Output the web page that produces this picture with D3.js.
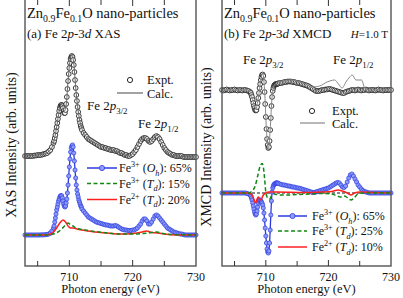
<!DOCTYPE html>
<html>
<head>
<meta charset="utf-8">
<script src="https://cdn.jsdelivr.net/npm/d3@7"></script>
<style>
body{margin:0;background:#fff}
svg text{font-family:"Liberation Serif","DejaVu Serif","Noto Serif",serif}
</style>
</head>
<body>
<div id="chart"></div>
<script>
const W = 403, H = 298;

// photon energy grid of the measured spectra (eV)
const energy = [].concat(d3.range(703, 707.51, 0.25), d3.range(707.6, 712.01, 0.1), d3.range(712.25, 730.01, 0.25));

// (a) XAS, measured + Fe3+ Oh component (on the grid above)
const xasExpt = [
  7.9,7.9,7.9,7.9,7.9,7.9,7.95,7.95,8.0,8.0,8.0,8.05,8.1,8.15,8.2,8.35,8.5,8.8,9.2,
  9.4,9.7,10.0,10.4,10.8,11.2,11.6,12.0,12.4,12.7,12.9,13.0,13.0,12.9,12.7,12.4,12.2,12.2,12.5,13.1,
  13.8,14.6,15.4,16.1,16.7,17.2,17.6,17.8,17.9,17.8,17.5,17.0,16.3,15.5,14.7,14.0,13.4,12.8,12.3,11.9,
  11.5,11.2,10.9,10.7,10.5,
  10.2,10.0,9.8, 9.6,9.5,9.4,9.3, 9.2,9.1,9.0,8.9, 8.8,8.8,8.7,8.7, 8.6,8.6,8.5,8.5, 8.5,8.4,8.4,8.3,
  8.2,8.2,8.1,8.0, 8.0,7.9,7.9,8.0, 8.1,8.3,8.5,8.8, 9.1,9.4,9.6,9.7, 9.7,9.6,9.4,9.3, 9.4,9.6,9.8,9.9,
  9.8,9.6,9.3,9.0, 8.7,8.5,8.3,8.2, 8.1,8.0,8.0,7.9, 7.9,7.9,7.9,7.9, 7.8,7.8,7.8,7.8, 7.8,7.8,7.8,7.8, 7.8
];
const xasOh = [
  0,0,0,0,0,0,0,0,0,0,0.01,0.01,0.02,0.03,0.05,0.1,0.2,0.4,0.7,
  0.9,1.3,1.7,2.1,2.5,2.8,3.1,3.4,3.6,3.8,3.9,3.95,3.9,3.7,3.4,3.1,2.9,2.8,2.9,3.2,
  3.6,4.2,5.0,5.9,6.8,7.6,8.3,8.7,8.9,9.0,8.8,8.2,7.4,6.5,5.7,5.0,4.5,4.1,3.8,3.5,
  3.3,3.1,2.9,2.8,2.6,
  2.4,2.2,2.0, 1.8,1.7,1.6,1.5, 1.4,1.3,1.25,1.2, 1.15,1.1,1.05,1.0, 1.0,0.95,0.9,0.9, 0.9,0.95,0.9,0.8,
  0.7,0.6,0.55,0.5, 0.5,0.45,0.45,0.45, 0.5,0.5,0.6,0.7, 0.9,1.1,1.4,1.6, 1.6,1.4,1.1,1.1, 1.3,1.6,1.9,2.0,
  1.9,1.7,1.5,1.3, 1.1,0.9,0.7,0.6, 0.5,0.4,0.3,0.25, 0.2,0.15,0.1,0.1, 0.05,0,0,0, 0,0,0,0, 0
];
const xasCalcE = [703,705,706,707,707.5,708,708.4,708.8,709.2,709.5,709.8,710.1,710.4,710.7,711,711.4,712,713,714,716,718,719.5,720.5,721.3,721.9,722.6,723.2,723.8,724.4,725.2,726,727,730];
const xasCalc = [7.9,8.0,8.1,8.5,9.2,10.8,12.4,13.1,12.4,13.0,15.4,17.4,18.0,17.2,14.8,12.4,10.6,9.6,9.2,8.7,8.2,7.9,8.6,9.5,9.8,9.2,9.6,10.0,9.4,8.4,8.0,7.9,7.8];
const xasTdE = [703,706.5,707.5,708.2,708.8,709.4,709.8,710.2,710.6,711.0,711.6,712.5,714,716,718,720,721.5,722.5,723.8,724.8,726,730];
const xasTd = [0,0,0.1,0.3,0.6,1.0,1.2,1.0,0.9,0.7,0.6,0.5,0.35,0.2,0.1,0.1,0.15,0.2,0.3,0.15,0.05,0];
const xasFe2E = [703,706,707,707.5,708,708.5,709.0,709.4,709.8,710.2,710.6,711.2,712,713,714,716,718,720,721.5,722.2,723,724,725,727,730];
const xasFe2 = [0,0,0.1,0.3,0.7,1.2,1.5,1.3,0.9,0.7,0.7,0.6,0.5,0.4,0.3,0.2,0.1,0.15,0.3,0.4,0.25,0.2,0.1,0,0];

// (b) XMCD
const xmcdExpt = [
  10.3,10.25,10.3,10.35,10.3,10.25,10.3,10.3,10.35,10.3,10.25,10.3,10.3,10.25,10.3,10.3,10.25,10.2,10.1,
  10.0,9.8,9.6,9.3,9.0,8.7,8.5,8.3,8.25,8.3,8.6,9.0,9.5,10.0,10.5,10.9,11.3,11.6,11.8,11.85,
  11.7,11.1,10.1,8.9,7.6,6.4,5.4,4.8,4.5,4.6,5.2,6.3,7.5,8.7,9.6,10.2,10.5,10.7,10.8,10.85,
  10.9,10.9,10.9,10.95,10.95,
  11.0,11.0,11.05, 11.1,11.1,11.15,11.15, 11.15,11.1,11.1,11.05, 11.0,11.0,10.95,10.9, 10.85,10.8,10.75,10.7,
  10.6,10.5,10.4,10.3, 10.2,10.2,10.2,10.25, 10.3,10.3,10.35,10.35, 10.4,10.4,10.35,10.3, 10.25,10.2,10.15,10.1,
  10.05,10.0,10.0,10.1, 10.15,10.2,10.25,10.3, 10.3,10.25,10.3,10.35,
  10.3,10.25,10.3,10.3,10.35,10.3,10.25,10.3,10.3,10.3,10.25,10.3,10.35,10.3,10.3,10.25,10.3,10.3,10.3,10.3,10.3
];
const xmcdOh = [
  0,0,0,0,0,0,0,0,0,0,0,0,0,0,0,0,-0.05,-0.1,-0.2,
  -0.3,-0.5,-0.7,-1.0,-1.3,-1.6,-1.9,-2.1,-2.2,-2.1,-1.8,-1.4,-1.0,-0.8,-0.7,-0.7,-0.8,-0.9,-1.0,-1.2,
  -1.5,-2.0,-2.7,-3.5,-4.3,-5.0,-5.6,-5.9,-6.0,-5.8,-5.0,-3.7,-2.2,-0.8,0.1,0.5,0.7,0.85,0.9,0.95,
  1.0,1.0,1.0,1.0,0.95,
  0.9,0.85,0.8, 0.8,0.75,0.7,0.7, 0.65,0.6,0.6,0.55, 0.5,0.5,0.45,0.4, 0.35,0.3,0.25,0.2, 0.15,0.1,0.05,0.05,
  0.1,0.15,0.2,0.25, 0.3,0.35,0.4,0.45, 0.5,0.6,0.7,0.8, 0.9,1.0,1.05,1.0, 0.8,0.6,0.55,0.7, 1.1,1.5,1.8,1.9,
  1.7,1.4,1.1,0.8, 0.6,0.4,0.25,0.15, 0.1,0.05,
  0,0,0,0,0,0,0,0,0,0,0,0,0,0,0
];
const xmcdCalcE = [703,707,707.5,708.0,708.4,708.8,709.2,709.5,709.8,710.1,710.4,710.7,711.0,711.4,712,714,716,717.5,718.6,719.8,721.0,721.6,722.2,722.8,723.4,723.8,724.4,725.3,725.8,726.5,730];
const xmcdCalc = [10.3,10.3,10.1,9.1,8.4,9.5,11.3,12.0,10.3,6.3,4.3,6.3,9.6,10.8,11.1,11.3,11.0,10.6,10.7,11.1,11.3,10.9,10.5,11.1,11.6,11.8,11.3,11.3,10.5,10.3,10.3];
const xmcdTdE = [703,707.3,707.8,708.3,708.7,709.0,709.4,709.6,709.8,710.0,710.3,710.6,710.9,711.3,712.2,713.5,715,717,719,720.5,721.4,721.9,722.5,723.1,723.6,724.1,724.7,725.5,730];
const xmcdTd = [0,0,0.2,0.7,1.7,2.5,2.95,2.6,1.5,0.1,-0.5,-0.6,-0.3,-0.1,-0.2,-0.2,-0.15,-0.1,-0.05,-0.1,-0.3,-0.4,-0.3,-0.5,-0.7,-0.5,-0.1,0,0];
const xmcdFe2E = [703,707,707.5,707.9,708.2,708.4,708.6,708.8,709.1,709.3,709.6,710.0,710.5,712,716,719,720.5,721.5,722.2,723,723.6,724.2,725,727,730];
const xmcdFe2 = [0,0,-0.05,-0.3,-0.8,-1.0,-0.6,-0.4,-0.7,-0.6,-0.2,0,0.1,0.1,0.05,0.1,0.15,0.3,0.2,0,-0.2,0,0.1,0.05,0];

const majorTicks = [710, 720, 730];
const minorTicks = [705, 715, 725];

const BLUE = "#2b3be0", BLUE_FILL = "#8e9cf8", GREEN = "#118811", RED = "#ff2020";

const svg = d3.select("#chart").append("svg")
  .attr("width", W).attr("height", H)
  .style("background", "#fff");

// text with sub/superscripts and italics
function rich(sel, x, y, size, parts, anchor) {
  const t = sel.append("text")
    .attr("x", x).attr("y", y)
    .attr("font-size", size)
    .attr("text-anchor", anchor || "start")
    .attr("fill", "#111");
  let cur = 0;
  parts.forEach(p => {
    const [str, kind] = typeof p === "string" ? [p, ""] : p;
    const small = kind.includes("sub") || kind.includes("sup");
    const off = kind.includes("sub") ? size * 0.3 : kind.includes("sup") ? -size * 0.38 : 0;
    const s = t.append("tspan").text(str).attr("dy", off - cur);
    cur = off;
    if (small) s.attr("font-size", size * 0.68);
    if (kind.includes("it")) s.attr("font-style", "italic");
  });
  return t;
}

function drawPanel(cfg) {
  const x = d3.scaleLinear().domain([703, 730]).range([cfg.left, cfg.right]);
  const y = d3.scaleLinear().domain(cfg.yDomain).range([266, -1]);
  const g = svg.append("g");

  const line = d3.line().x(d => x(d[0])).y(d => y(d[1]));
  const smooth = d3.line().x(d => x(d[0])).y(d => y(d[1])).curve(d3.curveMonotoneX);

  if (cfg.zeroLine) {
    g.append("line")
      .attr("x1", x(703)).attr("x2", x(730))
      .attr("y1", y(0)).attr("y2", y(0))
      .attr("stroke", "#111").attr("stroke-width", 1)
      .attr("stroke-dasharray", "3,2");
  }

  // Fe3+ Oh component: line + markers
  const oh = d3.zip(energy, cfg.oh);
  g.append("path").datum(oh)
    .attr("d", line).attr("fill", "none")
    .attr("stroke", BLUE).attr("stroke-width", 1.3);
  g.append("g").selectAll("circle").data(oh).join("circle")
    .attr("cx", d => x(d[0])).attr("cy", d => y(d[1]))
    .attr("r", 2.1)
    .attr("fill", BLUE_FILL).attr("stroke", BLUE).attr("stroke-width", 0.7);

  g.append("path").datum(d3.zip(cfg.fe2E, cfg.fe2))
    .attr("d", smooth).attr("fill", "none")
    .attr("stroke", RED).attr("stroke-width", 1.5);
  g.append("path").datum(d3.zip(cfg.tdE, cfg.td))
    .attr("d", smooth).attr("fill", "none")
    .attr("stroke", GREEN).attr("stroke-width", 1.5)
    .attr("stroke-dasharray", "4,2.5");

  // experiment (open circles) and calculation
  g.append("g").selectAll("circle").data(d3.zip(energy, cfg.expt)).join("circle")
    .attr("cx", d => x(d[0])).attr("cy", d => y(d[1]))
    .attr("r", 2.4)
    .attr("fill", "#fff").attr("stroke", "#111").attr("stroke-width", 0.8);
  g.append("path").datum(d3.zip(cfg.calcE, cfg.calc))
    .attr("d", smooth).attr("fill", "none")
    .attr("stroke", cfg.calcColor).attr("stroke-width", 1);

  // frame and ticks
  g.append("rect")
    .attr("x", cfg.left).attr("y", -1)
    .attr("width", cfg.right - cfg.left).attr("height", 267)
    .attr("fill", "none").attr("stroke", "#555").attr("stroke-width", 1.4);
  const ticks = majorTicks.concat(minorTicks).filter(v => v < 730);
  ticks.forEach(v => {
    const len = majorTicks.includes(v) ? 6 : 5;
    g.append("line").attr("x1", x(v)).attr("x2", x(v)).attr("y1", 266).attr("y2", 266 - len)
      .attr("stroke", "#333").attr("stroke-width", 1);
    g.append("line").attr("x1", x(v)).attr("x2", x(v)).attr("y1", 0).attr("y2", len)
      .attr("stroke", "#333").attr("stroke-width", 1);
  });
  g.selectAll("text.tick").data(majorTicks).join("text")
    .attr("class", "tick")
    .attr("x", d => x(d)).attr("y", 280.5)
    .attr("text-anchor", "middle")
    .attr("font-size", 12)
    .attr("fill", "#111")
    .text(d => d);
  g.append("text")
    .attr("x", (cfg.left + cfg.right) / 2).attr("y", 293)
    .attr("text-anchor", "middle")
    .attr("font-size", 12.5)
    .attr("fill", "#111")
    .text("Photon energy (eV)");
  g.append("text")
    .attr("transform", `translate(${cfg.yLabelX},${cfg.yLabelY}) rotate(-90)`)
    .attr("text-anchor", "middle")
    .attr("font-size", 14)
    .attr("fill", "#111")
    .text(cfg.yLabel);

  // titles
  rich(g, cfg.left + 2, 17.5, 14.5, ["Zn", ["0.9", "sub"], "Fe", ["0.1", "sub"], "O nano-particles"]);
  rich(g, cfg.left + 2, 37.5, 13, cfg.subtitle);
  if (cfg.field) rich(g, cfg.field[0], 37.5, 11, [["H", "it"], "=1.0 T"], "end");
  rich(g, cfg.p32[0], cfg.p32[1], 13, ["Fe 2", ["p", "it"], ["3/2", "sub"]]);
  rich(g, cfg.p12[0], cfg.p12[1], 13, ["Fe 2", ["p", "it"], ["1/2", "sub"]]);

  // Expt./Calc. legend
  const el = cfg.exptLeg;
  g.append("circle").attr("cx", el.cx).attr("cy", el.cy).attr("r", 2.6)
    .attr("fill", "#fff").attr("stroke", "#111").attr("stroke-width", 0.9);
  g.append("line").attr("x1", el.lx1).attr("x2", el.lx2).attr("y1", el.ly).attr("y2", el.ly)
    .attr("stroke", cfg.calcColor).attr("stroke-width", 1.2);
  rich(g, el.tx, el.cy + 4, 12.5, ["Expt."]);
  rich(g, el.tx, el.ly + 4.5, 12.5, ["Calc."]);

  // component legend
  const cl = cfg.compLeg;
  const rows = [
    {color: BLUE, dash: null, marker: true, label: ["Fe", ["3+", "sup"], " (", ["O", "it"], ["h", "itsub"], "): " + cfg.pct[0]]},
    {color: GREEN, dash: "4,2.5", marker: false, label: ["Fe", ["3+", "sup"], " (", ["T", "it"], ["d", "itsub"], "): " + cfg.pct[1]]},
    {color: RED, dash: null, marker: false, label: ["Fe", ["2+", "sup"], " (", ["T", "it"], ["d", "itsub"], "): " + cfg.pct[2]]},
  ];
  rows.forEach((r, i) => {
    const ly = cl.ys[i];
    const ln = g.append("line").attr("x1", cl.x1).attr("x2", cl.x2).attr("y1", ly).attr("y2", ly)
      .attr("stroke", r.color).attr("stroke-width", 1.5);
    if (r.dash) ln.attr("stroke-dasharray", r.dash);
    if (r.marker) {
      g.append("circle").attr("cx", (cl.x1 + cl.x2) / 2).attr("cy", ly).attr("r", 2.6)
        .attr("fill", BLUE_FILL).attr("stroke", BLUE).attr("stroke-width", 0.8);
    }
    rich(g, cl.tx, ly + 4, 12, r.label);
  });
}

drawPanel({
  left: 25, right: 196, yDomain: [-3.1, 23.6],
  expt: xasExpt, oh: xasOh, calcE: xasCalcE, calc: xasCalc,
  tdE: xasTdE, td: xasTd, fe2E: xasFe2E, fe2: xasFe2,
  calcColor: "#666", zeroLine: false,
  yLabel: "XAS Intensity (arb. units)", yLabelX: 16, yLabelY: 145,
  subtitle: ["(a) Fe 2", ["p", "it"], "-3", ["d", "it"], " XAS"],
  p32: [87, 110], p12: [138, 128],
  exptLeg: {cx: 130, cy: 80, lx1: 117, lx2: 143, ly: 93, tx: 147},
  compLeg: {x1: 87, x2: 117, ys: [168, 183.5, 199.5], tx: 119},
  pct: ["65%", "15%", "20%"]
});

drawPanel({
  left: 222, right: 391, yDomain: [-7.3, 19.4],
  expt: xmcdExpt, oh: xmcdOh, calcE: xmcdCalcE, calc: xmcdCalc,
  tdE: xmcdTdE, td: xmcdTd, fe2E: xmcdFe2E, fe2: xmcdFe2,
  calcColor: "#888", zeroLine: true,
  yLabel: "XMCD Intensity (arb. units)", yLabelX: 211, yLabelY: 147,
  subtitle: ["(b) Fe 2", ["p", "it"], "-3", ["d", "it"], " XMCD"],
  field: [388],
  p32: [243, 64], p12: [333, 64],
  exptLeg: {cx: 312, cy: 111, lx1: 300, lx2: 325, ly: 123, tx: 332},
  compLeg: {x1: 278, x2: 307, ys: [216, 231, 247], tx: 312},
  pct: ["65%", "25%", "10%"]
});
</script>
</body>
</html>
